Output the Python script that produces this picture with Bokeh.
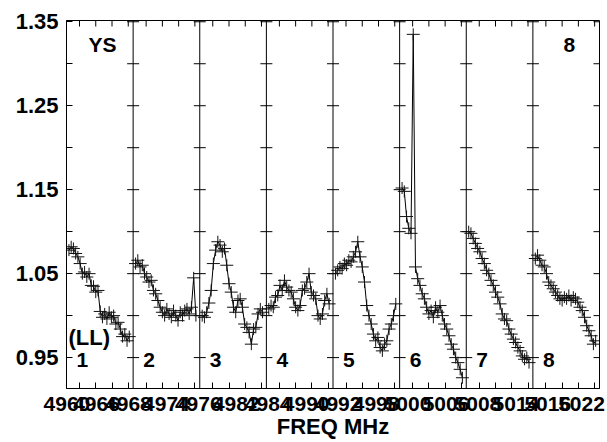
import numpy as np
from bokeh.plotting import figure
from bokeh.models import Range1d, FixedTicker, Span
from bokeh.core.properties import value
from bokeh.embed import file_html
from bokeh.resources import INLINE

# ---------------- data ----------------
panel_names = ["1", "2", "3", "4", "5", "6", "7", "8"]
first_tick_freq = [4960, 4968, 4976, 4984, 4992, 5000, 5008, 5016]   # MHz
tick_label_start = ["4960", "4968", "4976", "4984", "4992", "5000", "5008", "5016"]
tick_label_end = ["4966", "4974", "4982", "4990", "4998", "5006", "5014", "5022"]
y_major_ticks = [0.95, 1.05, 1.15, 1.25, 1.35]
y_minor_ticks = [1.00, 1.10, 1.20, 1.30]
chan_width_mhz = 0.275
first_chan_offset_mhz = -1.3

amp_1 = [1.078, 1.082, 1.080, 1.074, 1.070, 1.062, 1.050, 1.052, 1.046, 1.050,
         1.036, 1.035, 1.028, 1.030, 1.005, 0.998, 1.002, 0.996, 1.004, 0.998,
         1.000, 0.990, 0.992, 0.984, 0.975, 0.978, 0.970, 0.975]
amp_2 = [1.062, 1.066, 1.058, 1.060, 1.050, 1.046, 1.040, 1.042, 1.030, 1.026,
         1.018, 1.010, 1.004, 1.000, 1.008, 1.002, 0.998, 1.006, 1.000, 0.994,
         1.004, 1.000, 1.006, 1.008, 1.002, 1.010, 1.045, 1.000]
amp_3 = [1.000, 0.998, 1.004, 1.015, 1.030, 1.062, 1.078, 1.088, 1.084, 1.076,
         1.080, 1.060, 1.038, 1.028, 1.010, 1.004, 1.018, 1.020, 1.010, 0.990,
         0.986, 0.980, 0.966, 0.984, 0.986, 1.002, 1.008, 1.004]
amp_4 = [1.008, 1.012, 1.010, 1.022, 1.024, 1.036, 1.030, 1.042, 1.034, 1.030,
         1.028, 1.020, 1.010, 1.006, 1.012, 1.030, 1.032, 1.040, 1.050, 1.028,
         1.024, 1.020, 1.000, 0.996, 1.002, 1.018, 1.026, 1.014]
amp_5 = [1.050, 1.054, 1.058, 1.056, 1.062, 1.060, 1.066, 1.064, 1.070, 1.076,
         1.088, 1.070, 1.058, 1.040, 1.012, 1.000, 0.990, 0.978, 0.970, 0.974,
         0.962, 0.958, 0.966, 0.970, 0.984, 0.990, 1.000, 1.014]
amp_6 = [1.152, 1.148, 1.118, 1.104, 1.098, 1.335, 1.058, 1.044, 1.036, 1.026,
         1.020, 1.010, 1.002, 1.006, 0.998, 1.010, 1.004, 1.012, 1.000, 0.990,
         0.984, 0.976, 0.966, 0.960, 0.950, 0.944, 0.936, 0.926]
amp_7 = [1.100, 1.098, 1.092, 1.086, 1.080, 1.076, 1.068, 1.062, 1.054, 1.050,
         1.042, 1.036, 1.028, 1.022, 1.014, 1.002, 0.996, 0.994, 0.984, 0.978,
         0.972, 0.968, 0.962, 0.958, 0.952, 0.948, 0.950, 0.944]
amp_8 = [1.068, 1.072, 1.066, 1.060, 1.058, 1.050, 1.040, 1.036, 1.032, 1.028,
         1.024, 1.020, 1.018, 1.022, 1.020, 1.024, 1.018, 1.022, 1.020, 1.016,
         1.010, 1.006, 0.998, 0.988, 0.982, 0.976, 0.966, 0.970]
amps = [amp_1, amp_2, amp_3, amp_4, amp_5, amp_6, amp_7, amp_8]

# ---------------- layout ----------------
W = 8.2            # MHz shown per panel
LEAD = 1.6         # MHz from panel edge to first tick
NP = len(panel_names)
FRAME_W = 533.0
PX = FRAME_W / (NP * W)
Y0, Y1 = 0.9132, 1.3515

FONT_NAME = "Liberation Sans"
FONT = value(FONT_NAME)

p = figure(width=605, height=442, output_backend="svg", toolbar_location=None,
           x_range=Range1d(0, NP * W), y_range=Range1d(Y0, Y1),
           min_border_left=66, min_border_right=6, min_border_top=20,
           min_border_bottom=54)
p.grid.visible = False
p.outline_line_color = "black"
p.background_fill_color = "white"
p.border_fill_color = "white"

def gx(k, f):
    return k * W + (f - (first_tick_freq[k] - LEAD))

# real tick positions (every 2 MHz)
real_ticks = []
for k in range(NP):
    for m in range(4):
        real_ticks.append(gx(k, first_tick_freq[k] + 2 * m))

# label positions (start/end labels of each panel)
label_pos = []
overrides = {}
for k in range(NP):
    xs = max(0.05, (-8 + 69.9 * k) / PX)
    xe = min(515.0, 30 + 69.9 * k) / PX
    xs = round(xs, 4); xe = round(xe, 4)
    label_pos += [xs, xe]
    overrides[xs] = tick_label_start[k]
    overrides[xe] = tick_label_end[k]

xa = p.xaxis[0]
xa.ticker = FixedTicker(ticks=label_pos, minor_ticks=real_ticks)
xa.major_label_overrides = overrides
xa.major_tick_in = 0
xa.major_tick_out = 0
xa.minor_tick_in = 6
xa.minor_tick_out = 0
xa.major_label_standoff = 8
xa.major_label_text_font = FONT_NAME
xa.major_label_text_font_style = "bold"
xa.major_label_text_font_size = "21px"
xa.major_label_text_color = "black"
xa.axis_label = "FREQ MHz"
xa.axis_label_standoff = 0
xa.axis_label_text_font = FONT_NAME
xa.axis_label_text_font_style = "bold"
xa.axis_label_text_font_size = "22px"
xa.axis_label_text_color = "black"
xa.axis_line_color = "black"

ya = p.yaxis[0]
ya.ticker = FixedTicker(ticks=y_major_ticks, minor_ticks=y_minor_ticks)
ya.major_label_overrides = {v: f"{v:.2f}" for v in y_major_ticks}
ya.major_tick_in = 6
ya.major_tick_out = 0
ya.minor_tick_in = 6
ya.minor_tick_out = 0
ya.major_label_standoff = 8
ya.major_label_text_font = FONT_NAME
ya.major_label_text_font_style = "bold"
ya.major_label_text_font_size = "22px"
ya.major_label_text_color = "black"
ya.axis_line_color = "black"

levels = y_major_ticks + y_minor_ticks

# top and right inward ticks (markers centred on the frame edge, clipped to frame)
p.scatter(real_ticks, [Y1] * len(real_ticks), marker="dash", angle=np.pi / 2,
          size=12, line_color="black", line_width=1)
p.scatter([NP * W] * len(levels), levels, marker="dash", size=12,
          line_color="black", line_width=1)

# panel separators with crossing ticks
bx, by = [], []
for k in range(1, NP):
    p.add_layout(Span(location=k * W, dimension="height", line_color="black",
                      line_width=1))
    for lv in levels:
        bx.append(k * W); by.append(lv)
p.scatter(bx, by, marker="dash", size=12, line_color="black", line_width=1)

# spectra
for k in range(NP):
    f = [first_tick_freq[k] + first_chan_offset_mhz + j * chan_width_mhz
         for j in range(len(amps[k]))]
    xs = [gx(k, fv) for fv in f]
    p.line(xs, amps[k], line_color="black", line_width=1)
    p.scatter(xs, amps[k], marker="dash", size=13, line_color="#111111", line_width=1)
    p.scatter(xs, amps[k], marker="dash", size=12, angle=np.pi / 2,
              line_color="#111111", line_width=1)

# panel numbers and labels
p.text(x=[k * W for k in range(NP)], y=[Y0] * NP, text=panel_names,
       x_offset=10, y_offset=-29, text_font=FONT, text_font_style="bold",
       text_font_size="21px", text_color="black", text_baseline="alphabetic")
p.text(x=[0], y=[Y0], text=["(LL)"], x_offset=2, y_offset=-51, text_font=FONT,
       text_font_style="bold", text_font_size="22px", text_color="black",
       text_baseline="alphabetic")
p.text(x=[0], y=[Y1], text=["YS"], x_offset=22, y_offset=24, text_font=FONT,
       text_font_style="bold", text_font_size="21px", text_color="black",
       text_baseline="alphabetic")
p.text(x=[NP * W], y=[Y1], text=[panel_names[-1]], x_offset=-36, y_offset=24,
       text_font=FONT, text_font_style="bold", text_font_size="21px",
       text_color="black", text_baseline="alphabetic")

open("out.html", "w").write(file_html(p, INLINE))
